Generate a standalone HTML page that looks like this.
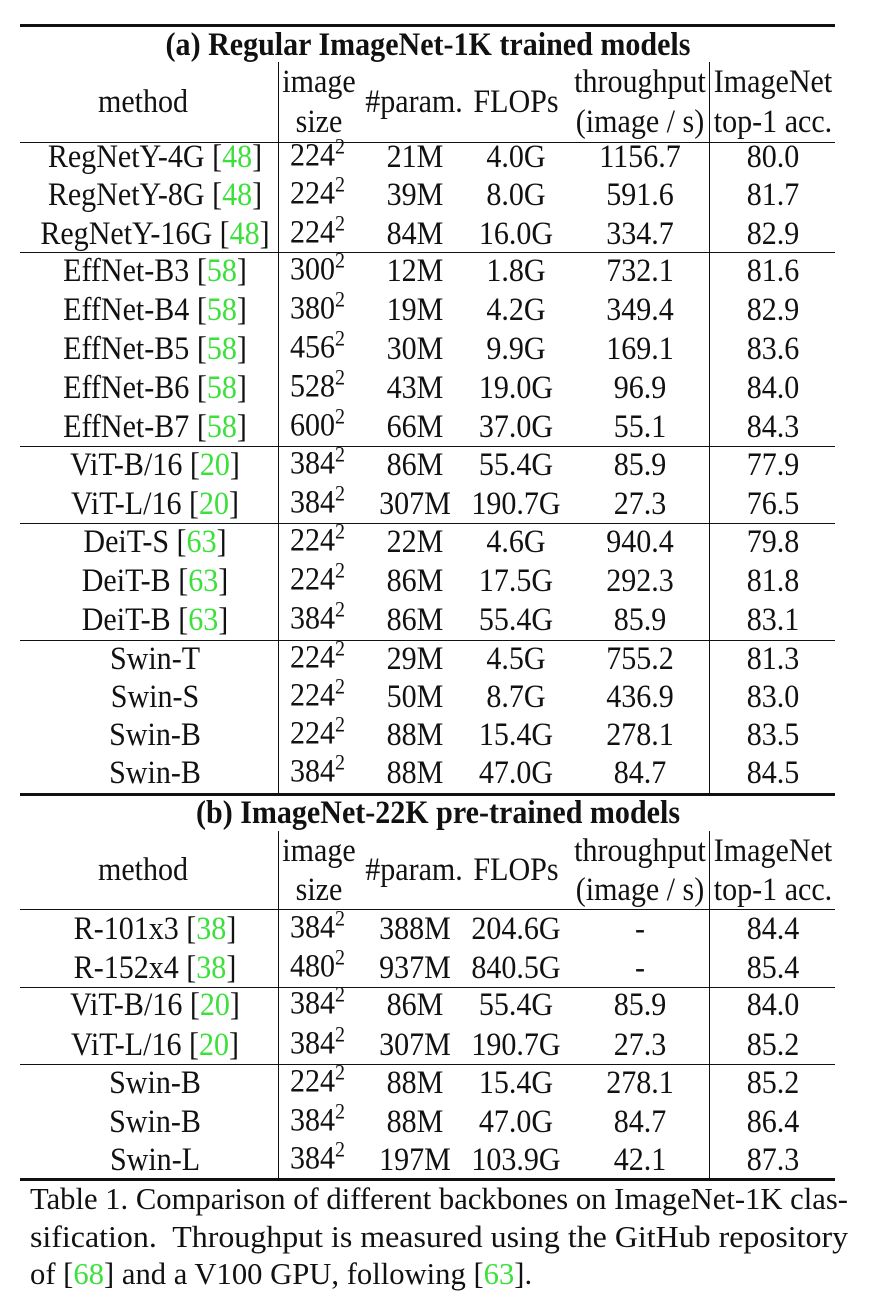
<!DOCTYPE html>
<html><head><meta charset="utf-8"><style>
body{margin:0;width:878px;height:1306px;background:#fff;position:relative;overflow:hidden;font-family:"Liberation Serif",serif;color:#111}
.t{position:absolute;white-space:nowrap;font-size:33px;line-height:34px;transform:translate(-50%,-50%) scaleX(0.91)}
.l{position:absolute;white-space:nowrap;font-size:33px;line-height:34px;transform-origin:left center;transform:translate(0,-50%) scaleX(0.91)}
.h{position:absolute;background:#111;left:20px;width:815px}
.v{position:absolute;background:#111;width:1.3px}
.g{color:#3be03b}
sup{font-size:22px;vertical-align:0;position:relative;top:-12px}
.cap{position:absolute;left:30px;font-size:31px;line-height:32px;transform-origin:left top;white-space:nowrap}
.b{font-weight:bold}
</style></head><body>
<div id="tbl"></div>
<div class="cap" id="c1" style="top:1183px">Table 1. Comparison of different backbones on ImageNet-1K clas-</div>
<div class="cap" id="c2" style="top:1221px">sification.&nbsp; Throughput is measured using the GitHub repository</div>
<div class="cap" id="c3" style="top:1258px">of [<span class="g">68</span>] and a V100 GPU, following [<span class="g">63</span>].</div>
<script>
const methods=["RegNetY-4G|48","RegNetY-8G|48","RegNetY-16G|48","EffNet-B3|58","EffNet-B4|58","EffNet-B5|58","EffNet-B6|58","EffNet-B7|58","ViT-B/16|20","ViT-L/16|20","DeiT-S|63","DeiT-B|63","DeiT-B|63","Swin-T|","Swin-S|","Swin-B|","Swin-B|","R-101x3|38","R-152x4|38","ViT-B/16|20","ViT-L/16|20","Swin-B|","Swin-B|","Swin-L|"];
const sizes=[224,224,224,300,380,456,528,600,384,384,224,224,384,224,224,224,384,384,480,384,384,224,384,384];
const params=["21M","39M","84M","12M","19M","30M","43M","66M","86M","307M","22M","86M","86M","29M","50M","88M","88M","388M","937M","86M","307M","88M","88M","197M"];
const flops=["4.0G","8.0G","16.0G","1.8G","4.2G","9.9G","19.0G","37.0G","55.4G","190.7G","4.6G","17.5G","55.4G","4.5G","8.7G","15.4G","47.0G","204.6G","840.5G","55.4G","190.7G","15.4G","47.0G","103.9G"];
const thr=["1156.7","591.6","334.7","732.1","349.4","169.1","96.9","55.1","85.9","27.3","940.4","292.3","85.9","755.2","436.9","278.1","84.7","-","-","85.9","27.3","278.1","84.7","42.1"];
const acc=["80.0","81.7","82.9","81.6","82.9","83.6","84.0","84.3","77.9","76.5","79.8","81.8","83.1","81.3","83.0","83.5","84.5","84.4","85.4","84.0","85.2","85.2","86.4","87.3"];
const rowY=[157,195,234,271,310,349,388,427,465,504,542,581,620,659,697,735,773,929,968,1005,1045,1083,1122,1160];
const T=document.getElementById('tbl');
function add(cls,style,html,name){const d=document.createElement('div');d.className=cls;d.setAttribute('style',style);d.innerHTML=html;


T.appendChild(d);return d;}
[[24,3],[142,1.3],[252,1.3],[446,1.3],[523,1.3],[640,1.3],[793,3],[909,1.3],[987,1.3],[1064,1.3],[1178,3]].forEach(([y,h],i)=>add('h','top:'+y+'px;height:'+h+'px','','rule-'+i));
add('v','left:278px;top:62px;height:731px','','vline-1a');add('v','left:709px;top:62px;height:731px','','vline-2a');
add('v','left:278px;top:831px;height:347px','','vline-1b');add('v','left:709px;top:831px;height:347px','','vline-2b');
add('t b','left:428px;top:45px','(a) Regular ImageNet-1K trained models','section-a-title');
add('t b','left:438px;top:813px','(b) ImageNet-22K pre-trained models','section-b-title');
[[0,102,82,122],[1,870,851,890]].forEach(([k,m,a,b])=>{
add('t','left:319px;top:'+a+'px','image','header-image');add('t','left:319px;top:'+b+'px','size','header-size');
add('t','left:143px;top:'+m+'px','method','header-method');
add('t','left:414px;top:'+m+'px','#param.','header-param');add('t','left:516px;top:'+m+'px','FLOPs','header-flops');
add('t','left:640px;top:'+a+'px','throughput','header-throughput');add('t','left:640px;top:'+b+'px','(image / s)','header-units');
add('t','left:773px;top:'+a+'px','ImageNet','header-imagenet');add('t','left:773px;top:'+b+'px','top-1 acc.','header-acc');
});
methods.forEach((m,i)=>{const [n,r]=m.split('|');const y=rowY[i];
add('t','left:155px;top:'+y+'px',n+(r?' [<span class="g">'+r+'</span>]':''),'method-cell');
add('l','left:290px;top:'+y+'px',sizes[i]+'<sup>2</sup>','image-size-cell');
add('t','left:415px;top:'+y+'px',params[i],'param-cell');
add('t','left:516px;top:'+y+'px',flops[i],'flops-cell');
add('t','left:640px;top:'+y+'px',thr[i],'throughput-cell');
add('t','left:773px;top:'+y+'px',acc[i],'accuracy-cell');});
const c1=document.getElementById('c1'),c2=document.getElementById('c2'),c3=document.getElementById('c3');
const s1=818/c1.scrollWidth,s2=818/c2.scrollWidth;
c1.style.transform='scaleX('+s1+')';c2.style.transform='scaleX('+s2+')';c3.style.transform='scaleX('+s1+')';
</script>
</body></html>
